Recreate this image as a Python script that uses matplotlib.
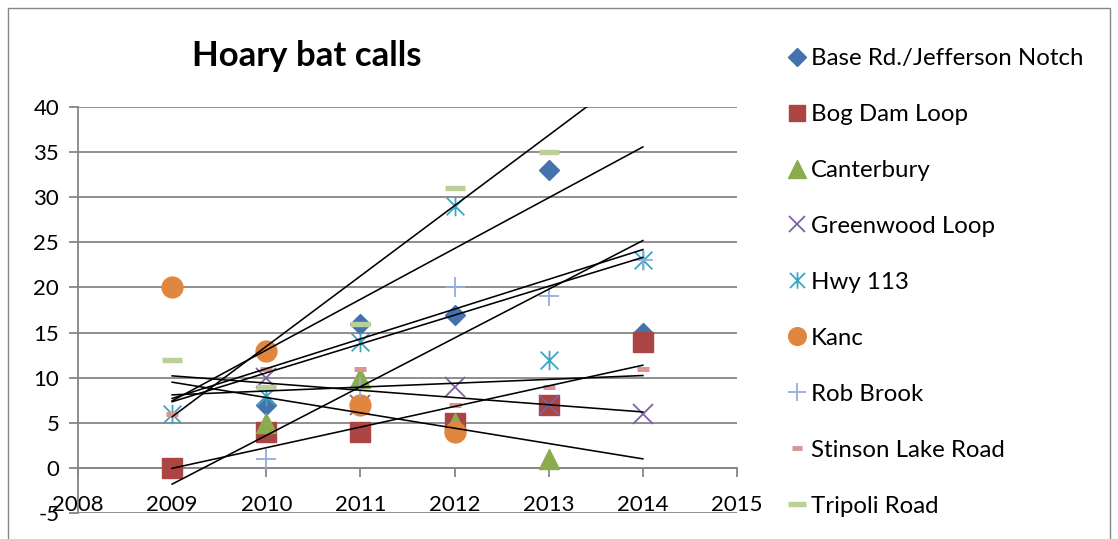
import matplotlib.pyplot as plt
from matplotlib.path import Path
from matplotlib.patches import Rectangle
import numpy as np

plt.rcParams['font.family'] = ['Lato', 'DejaVu Sans']
plt.rcParams['axes.unicode_minus'] = False

# Survey years and hoary bat call counts per route (nan = no survey).
# A few counts sit above the 40 ceiling of the axis; they are clipped
# but still feed the trend lines.
years = np.array([2009, 2010, 2011, 2012, 2013, 2014])
nan = np.nan

base_rd = [nan, 7, 16, 17, 33, 15]
bog_dam = [0, 4, 4, 5, 7, 14]
canterbury = [nan, 5, 10, 5, 1, nan]
greenwood = [nan, 10, 7, 9, 7, 6]
hwy_113 = [6, 8, 14, 29, 12, 23]
kanc = [20, 13, 7, 4, 43, 42]
rob_brook = [nan, 1, 9, 20, 19, 23]
stinson = [6, 11, 11, 7, 9, 11]
tripoli = [12, 9, 16, 31, 35, 48]

names = ['Base Rd./Jefferson Notch', 'Bog Dam Loop', 'Canterbury',
         'Greenwood Loop', 'Hwy 113', 'Kanc', 'Rob Brook',
         'Stinson Lake Road', 'Tripoli Road']
series = [base_rd, bog_dam, canterbury, greenwood, hwy_113, kanc,
          rob_brook, stinson, tripoli]

# asterisk marker: an X crossed by a vertical stroke
star = Path([(-0.5, -0.5), (0.5, 0.5), (-0.5, 0.5), (0.5, -0.5),
             (0, -0.55), (0, 0.55)],
            [Path.MOVETO, Path.LINETO] * 3)

styles = [
    dict(marker='D', ms=10.5, color='#4372AE'),
    dict(marker='s', ms=14, color='#AB4543'),
    dict(marker='^', ms=15, color='#8CAB4E'),
    dict(marker='x', ms=14, mew=1.3, color='#7E62A1'),
    dict(marker=star, ms=14, mew=1.3, color='#3FA4BE', mfc='none'),
    dict(marker='o', ms=15, color='#E0863F'),
    dict(marker='+', ms=14.5, mew=1.3, color='#93AED9'),
    dict(marker='_', ms=8, mew=3.6, color='#D99697'),
    dict(marker='_', ms=14.5, mew=3.9, color='#BAD098'),
]

grid_c = '#868686'

fig = plt.figure(figsize=(11.18, 5.39), dpi=100)
ax = fig.add_axes([78 / 1118, 1 - 513 / 539, 659 / 1118, 406 / 539])

for name, vals, st in zip(names, series, styles):
    vals = np.array(vals, dtype=float)
    ax.plot(years, vals, linestyle='none', label=name, zorder=3, **st)

# linear trend per route, fitted on surveyed years and drawn over 2009-2014
for vals in series:
    vals = np.array(vals, dtype=float)
    ok = ~np.isnan(vals)
    slope, icpt = np.polyfit(years[ok], vals[ok], 1)
    xs = np.array([years.min(), years.max()])
    ax.plot(xs, slope * xs + icpt, color='black', lw=1.15, zorder=4)

ax.set_xlim(2008, 2015)
ax.set_ylim(-5, 40)
ax.set_xticks(range(2008, 2016))
ax.set_yticks(range(-5, 41, 5))
ax.grid(axis='y', color=grid_c, lw=1.3)
ax.set_axisbelow(True)
for side in ['top', 'right']:
    ax.spines[side].set_visible(False)
ax.spines['bottom'].set_position(('data', 0))
for side in ['left', 'bottom']:
    ax.spines[side].set_color(grid_c)
    ax.spines[side].set_linewidth(1.3)
ax.tick_params(axis='both', direction='out', length=6.5, width=1.3,
               color=grid_c, labelsize=16)
ax.tick_params(axis='x', pad=13)
ax.tick_params(axis='y', pad=7)

fig.text(307 / 1118, 1 - 56 / 539, 'Hoary bat calls', ha='center',
         va='center', fontsize=25, fontweight='bold')

fig.legend(loc='upper left', bbox_to_anchor=(790 / 1118, 1 - 48 / 539),
           frameon=False, fontsize=17.3, labelspacing=1.455,
           handlelength=0.6, handletextpad=0.28, markerscale=0.85,
           borderaxespad=0, borderpad=0)

fig.patches.append(Rectangle((8 / 1118, -0.1), 1102 / 1118, 1.1 - 8 / 539,
                             transform=fig.transFigure, fill=False,
                             ec=grid_c, lw=1))

fig.savefig('out.png', dpi=100)
